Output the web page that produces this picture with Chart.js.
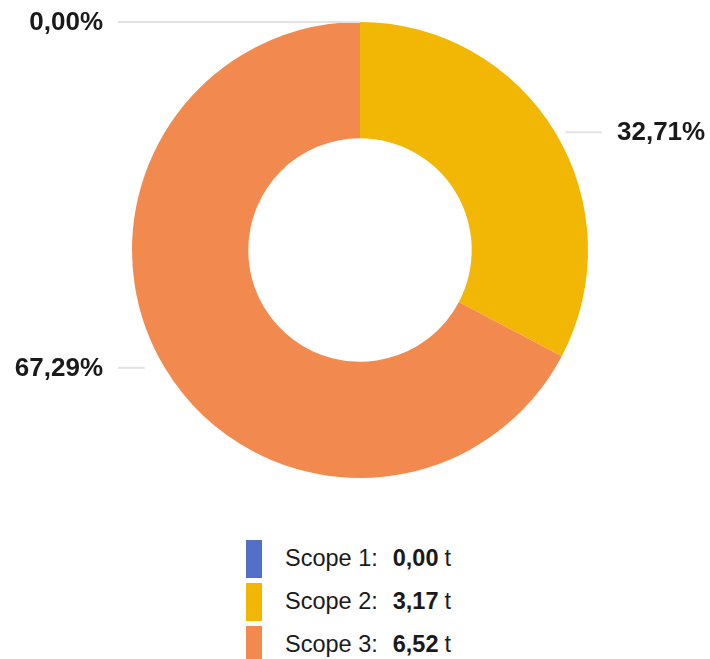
<!DOCTYPE html>
<html lang="en">
  <head>
    <meta charset="UTF-8" />
    <title>Scope emissions</title>
    <style>
      body {
        margin: 0;
        background: #fff;
        font-family: "Liberation Sans", Arial, sans-serif;
        color: #1a1a1a;
      }
      .wrap {
        position: relative;
        width: 710px;
        height: 659px;
        overflow: hidden;
      }
      .chart-box {
        position: absolute;
        left: 0;
        top: 0;
        width: 710px;
        height: 500px;
      }
      .legend {
        position: absolute;
        left: 246px;
        top: 537px;
        margin: 0;
        padding: 0;
        list-style: none;
      }
      .legend li {
        display: flex;
        align-items: center;
        height: 43px;
        font-size: 23.5px;
      }
      .legend .swatch {
        width: 16px;
        height: 38px;
        margin-right: 23px;
      }
      .legend .name {
        margin-right: 15px;
      }
      .legend b {
        margin-right: 6px;
      }
    </style>
  </head>
  <body>
    <div class="wrap">
      <div class="chart-box"><canvas id="scopeChart"></canvas></div>
      <ul class="legend" id="legend"></ul>
    </div>
    <script src="https://cdn.jsdelivr.net/npm/chart.js"></script>
    <script>
      const labels = ["Scope 1", "Scope 2", "Scope 3"];
      const tonnes = [0.0, 3.17, 6.52];
      const percents = [0.0, 32.71, 67.29];
      const colors = ["#5470c6", "#f2b705", "#f28a4f"];

      const fmt = (v) => v.toFixed(2).replace(".", ",");

      // legend below the chart
      document.getElementById("legend").innerHTML = labels
        .map(
          (l, i) =>
            `<li><span class="swatch" style="background:${colors[i]}"></span>` +
            `<span class="name">${l}:</span><b>${fmt(tonnes[i])}</b>t</li>`
        )
        .join("");

      // percentage labels with horizontal leader lines
      const leaderLabels = {
        id: "leaderLabels",
        afterDatasetsDraw(chart) {
          const ctx = chart.ctx;
          const meta = chart.getDatasetMeta(0);
          ctx.save();
          meta.data.forEach((arc, i) => {
            const mid = (arc.startAngle + arc.endAngle) / 2;
            const r = arc.outerRadius;
            const px = arc.x + Math.cos(mid) * r;
            const py = arc.y + Math.sin(mid) * r;
            const right = Math.cos(mid) > 0.01;
            const text = fmt(percents[i]) + "%";
            ctx.strokeStyle = "#e3e3e3";
            ctx.lineWidth = 2;
            ctx.beginPath();
            if (right) {
              ctx.moveTo(px + 10, py);
              ctx.lineTo(602, py);
            } else {
              ctx.moveTo(118, py);
              ctx.lineTo(percents[i] === 0 ? px : px - 20, py);
            }
            ctx.stroke();
            ctx.fillStyle = "#1a1a1a";
            ctx.font = "bold 26px 'Liberation Sans', Arial, sans-serif";
            ctx.textBaseline = "middle";
            if (right) {
              ctx.textAlign = "left";
              ctx.fillText(text, 617, py + 1);
            } else {
              ctx.textAlign = "right";
              ctx.fillText(text, 103, py + 1);
            }
          });
          ctx.restore();
        },
      };

      new Chart(document.getElementById("scopeChart"), {
        type: "doughnut",
        data: {
          labels: labels,
          datasets: [
            {
              data: tonnes,
              backgroundColor: colors,
              borderWidth: 0,
            },
          ],
        },
        options: {
          responsive: true,
          maintainAspectRatio: false,
          animation: false,
          cutout: "49%",
          layout: { padding: { top: 22, bottom: 22, left: 132, right: 122 } },
          plugins: {
            legend: { display: false },
            tooltip: { enabled: false },
          },
        },
        plugins: [leaderLabels],
      });
    </script>
  </body>
</html>
